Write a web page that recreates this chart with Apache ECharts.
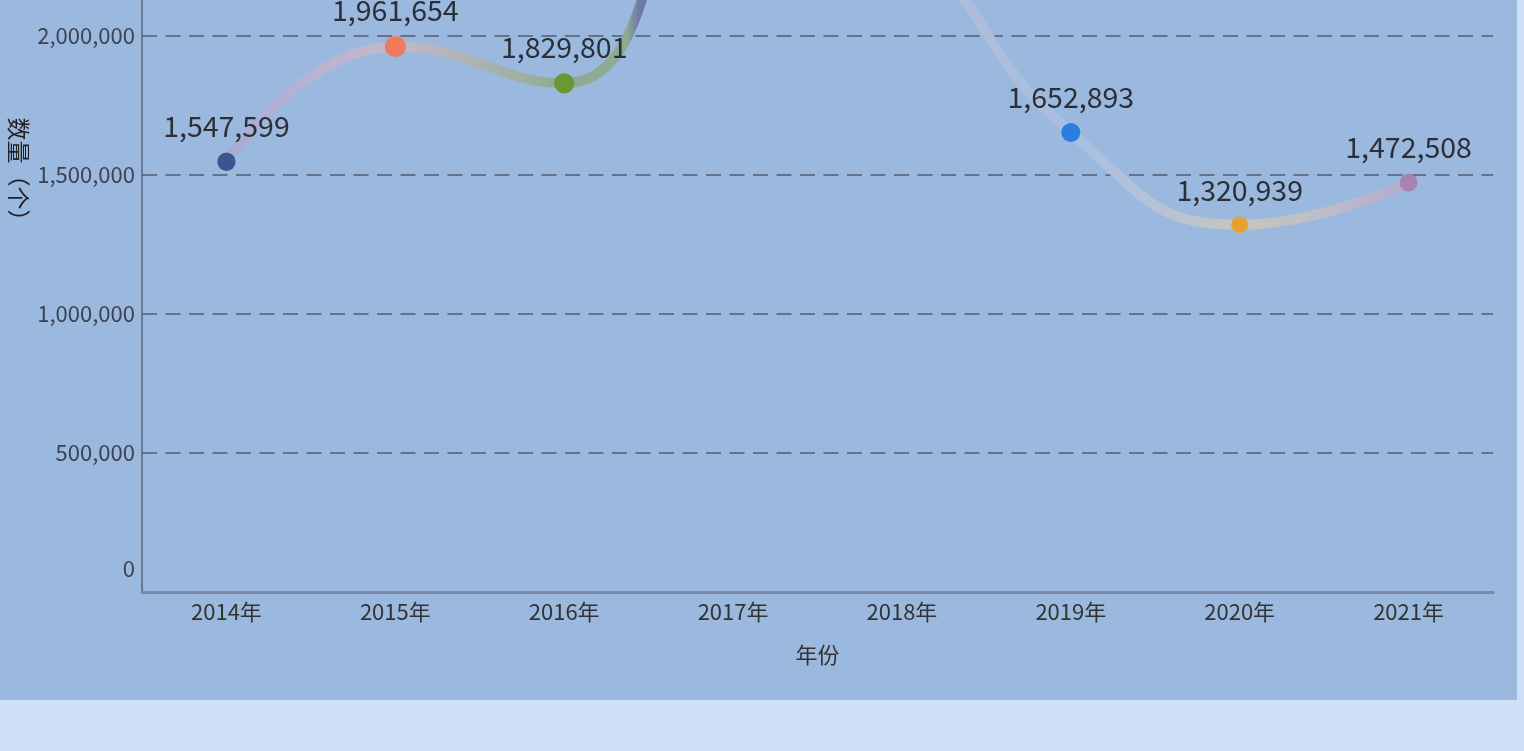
<!DOCTYPE html>
<html>
<head>
<meta charset="utf-8">
<script src="https://cdn.jsdelivr.net/npm/echarts@6/dist/echarts.min.js"></script>
<style>
  html, body { margin: 0; padding: 0; background: #cde0f7; overflow: hidden; }
  #main { position: absolute; left: 0; top: -300px; width: 1517px; height: 1000px; background: #9bb9df; }
</style>
</head>
<body>
<div id="main"></div>
<script>
// 年份 & 数量（个）
var years = ['2014年', '2015年', '2016年', '2017年', '2018年', '2019年', '2020年', '2021年'];
var counts = [1547599, 1961654, 1829801, 2600000, 2350000, 1652893, 1320939, 1472508];

// 每个点的颜色
var dotColors = ['#3a5591', '#ef7a5e', '#6a9834', '#4b5485', '#c8c0d0', '#2b7de0', '#e5a233', '#a683b2'];
// 线条渐变（按横向位置）
var lineStops = [
  [0.00, '#a5abd5'], [0.07, '#b6b3d3'], [0.143, '#c4b8cb'],
  [0.25, '#9fb0a2'], [0.286, '#8eaa92'], [0.34, '#8eaa92'], [0.35, '#6f7aa8'],
  [0.43, '#5e6998'], [0.571, '#b3bbd4'], [0.714, '#a8bfe3'],
  [0.79, '#b8c2d4'], [0.857, '#c6c6bb'], [0.93, '#bdbbcb'], [1.00, '#b3abd0']
];

var font = "'Microsoft YaHei', 'Noto Sans CJK SC', sans-serif";
var chart = echarts.init(document.getElementById('main'));

var option = {
  backgroundColor: 'transparent',
  grid: { left: 142, right: 24, top: 58, bottom: 108, containLabel: false, outerBoundsMode: 'none' },
  xAxis: {
    type: 'category',
    data: years,
    name: '年份',
    nameLocation: 'middle',
    nameGap: 52,
    nameMoveOverlap: false,
    nameTextStyle: { fontSize: 22, color: '#333', fontFamily: font },
    axisTick: { show: false },
    axisLine: { lineStyle: { color: '#7889a8', width: 3 } },
    axisLabel: { fontSize: 22, color: '#333', margin: 9, fontFamily: font }
  },
  yAxis: {
    type: 'value',
    min: 0,
    max: 3000000,
    interval: 500000,
    name: '数量（个）',
    nameLocation: 'middle',
    nameRotate: -90,
    nameGap: 112,
    nameMoveOverlap: false,
    nameTextStyle: { fontSize: 23, color: '#222', fontFamily: font },
    axisLine: { show: true, lineStyle: { color: '#5a6377', width: 1.5 } },
    axisTick: { show: false },
    axisLabel: {
      fontSize: 22, color: '#3c4250', margin: 7, fontFamily: font,
      formatter: function (v) {
        return v === 0 ? '{z|0}' : v.toLocaleString('en-US');
      },
      rich: { z: { fontSize: 22, color: '#3c4250', fontFamily: font, padding: [0, 0, 46, 0] } }
    },
    splitLine: {
      lineStyle: { color: '#65728a', width: 2, type: [15, 8.5] }
    }
  },
  series: [{
    type: 'line',
    smooth: true,
    data: counts.map(function (v, i) {
      return { value: v, itemStyle: { color: dotColors[i] } };
    }),
    symbol: 'circle',
    symbolSize: function (v) { return 8 + v / 150000; },
    lineStyle: {
      width: 10,
      color: new echarts.graphic.LinearGradient(0, 0, 1, 0,
        lineStops.map(function (s) { return { offset: s[0], color: s[1] }; }))
    },
    label: {
      show: true,
      position: 'top',
      distance: 12,
      fontSize: 28.5,
      color: '#2b2f38',
      fontFamily: font,
      formatter: function (p) { return p.value.toLocaleString('en-US'); }
    },
    z: 3
  }]
};

chart.setOption(option);
</script>
</body>
</html>
